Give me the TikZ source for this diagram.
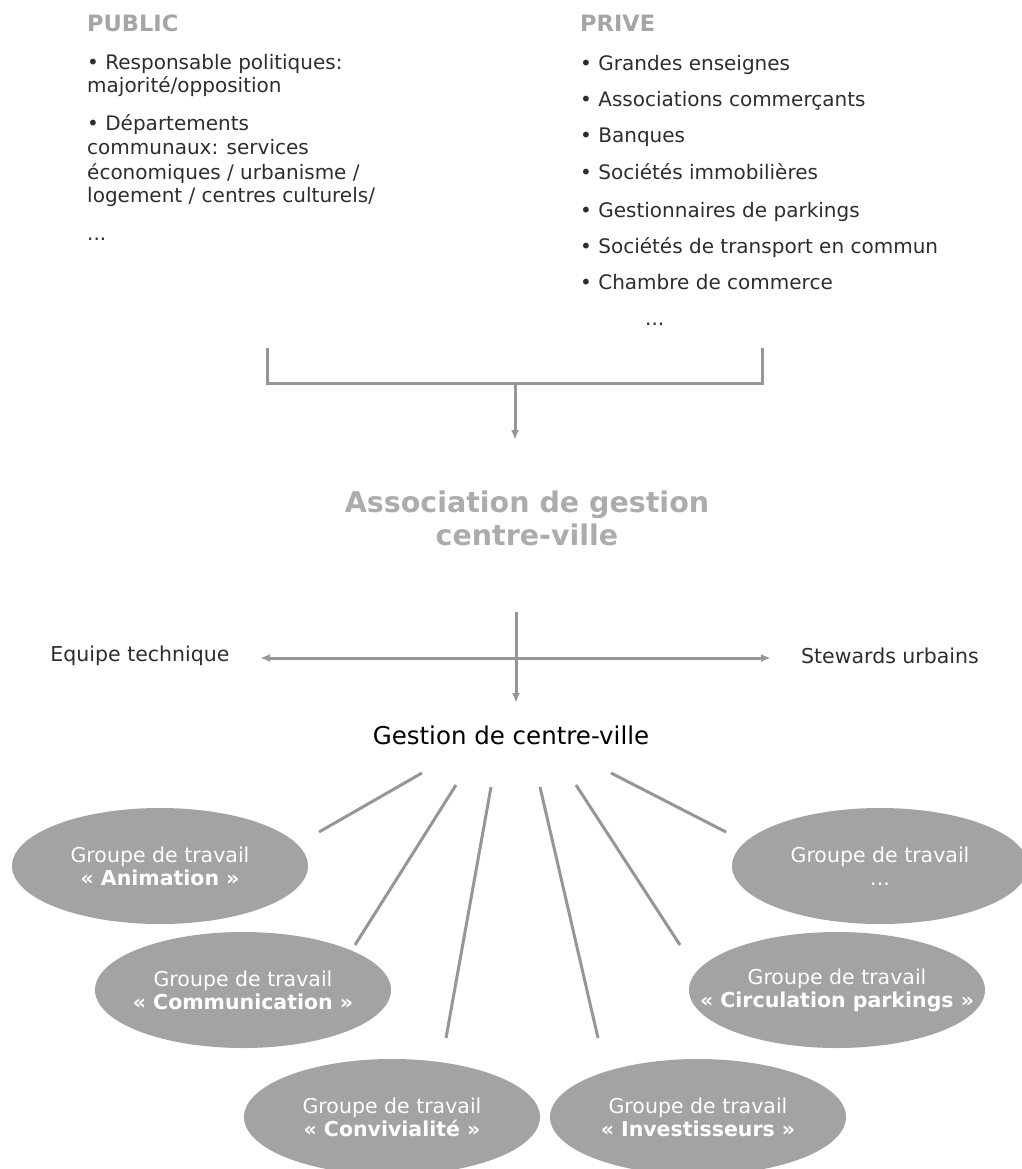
\documentclass[tikz,border=0pt]{standalone}
\usepackage{fontspec}
\setmainfont{DejaVu Sans}
\usepackage{xcolor}
\usetikzlibrary{arrows.meta,shapes.geometric}

\definecolor{bodytext}{RGB}{45,45,45}
\definecolor{headgray}{RGB}{165,165,165}
\definecolor{assocgray}{RGB}{172,172,172}
\definecolor{linkgray}{RGB}{150,150,150}
\definecolor{groupgray}{RGB}{163,163,163}

\begin{document}
\begin{tikzpicture}[x=1pt, y=-1pt,
    listline/.style={anchor=base west, inner sep=0pt, text=bodytext, font=\fontsize{20}{24}\selectfont},
    listhead/.style={anchor=base west, inner sep=0pt, text=headgray, font=\bfseries\fontsize{22.5}{24}\selectfont},
    sideline/.style={inner sep=0pt, text=bodytext, font=\fontsize{20.5}{24}\selectfont},
    linkline/.style={draw=linkgray, line width=3pt},
    linkarrow/.style={linkline, -{Latex[length=10pt,width=8pt]}},
    workgroup/.style={ellipse, fill=groupgray, minimum width=296pt, minimum height=116pt, inner sep=0pt},
    grouptext/.style={inner sep=0pt, text=white, align=center, font=\fontsize{20.5}{23}\selectfont}]
    \useasboundingbox (0,0) rectangle (1021,1169);

    % public side
    \node[listhead] (pubhead) at (87,32) {PUBLIC};
    \node[listline] (pub1a) at (87,70) {• Responsable politiques:};
    \node[listline] (pub1b) at (87,93) {majorité/opposition};
    \node[listline] (pub2a) at (87,131) {• Départements};
    \node[listline] (pub2b) at (87,155) {communaux: services};
    \node[listline] (pub2c) at (87,180) {économiques / urbanisme /};
    \node[listline] (pub2d) at (87,203) {logement / centres culturels/};
    \node[listline] (pubetc) at (87,240) {...};

    % private side
    \node[listhead] (prvhead) at (580,32) {PRIVE};
    \node[listline] (prv1) at (580,71) {• Grandes enseignes};
    \node[listline] (prv2) at (580,107) {• Associations commerçants};
    \node[listline] (prv3) at (580,143) {• Banques};
    \node[listline] (prv4) at (580,180) {• Sociétés immobilières};
    \node[listline] (prv5) at (580,217) {• Gestionnaires de parkings};
    \node[listline] (prv6) at (580,253) {• Sociétés de transport en commun};
    \node[listline] (prv7) at (580,289) {• Chambre de commerce};
    \node[listline] (prvetc) at (645,325) {...};

    % bracket
    \coordinate (brl) at (267,348);
    \coordinate (brr) at (762,348);
    \coordinate (brm) at (515,383);
    \coordinate (associn) at (515,440);
    \draw[linkline] (brl) |- (brm) -| (brr);
    \draw[linkarrow] (brm) -- (associn);

    \node[inner sep=0pt, text=assocgray, align=center, font=\bfseries\fontsize{28.5}{33}\selectfont]
        (assoc) at (527,518) {Association de gestion\\centre-ville};

    % staff
    \node[sideline] (equipe) at (140,656) {Equipe technique};
    \node[sideline] (stewards) at (890,656) {Stewards urbains};
    \coordinate (vtop) at (516,612);
    \coordinate (vbot) at (516,703);
    \coordinate (hleft) at (260,658);
    \coordinate (hright) at (771,658);
    \draw[linkarrow] (vtop) -- (vbot);
    \draw[linkline, {Latex[length=10pt,width=8pt]}-{Latex[length=10pt,width=8pt]}] (hleft) -- (hright);

    \node[inner sep=0pt, text=black, font=\fontsize{24.5}{28}\selectfont] (gestion) at (511,735) {Gestion de centre-ville};

    % working groups
    \node[workgroup] (animation) at (160,866) {};
    \node[workgroup] (autres) at (880,866) {};
    \node[workgroup] (communication) at (243,990) {};
    \node[workgroup] (circulation) at (837,990) {};
    \node[workgroup] (convivialite) at (392,1117) {};
    \node[workgroup] (investisseurs) at (698,1117) {};
    \node[grouptext] at (animation) {Groupe de travail\\\textbf{« Animation »}};
    \node[grouptext] at (autres) {Groupe de travail\\...};
    \node[grouptext] at (communication) {Groupe de travail\\\textbf{« Communication »}};
    \node[grouptext] at (circulation) {Groupe de travail\\\textbf{« Circulation parkings »}};
    \node[grouptext] at (convivialite) {Groupe de travail\\\textbf{« Convivialité »}};
    \node[grouptext] at (investisseurs) {Groupe de travail\\\textbf{« Investisseurs »}};

    \coordinate (g1) at (422,773);
    \coordinate (g2) at (456,785);
    \coordinate (g3) at (491,787);
    \coordinate (g4) at (540,787);
    \coordinate (g5) at (576,785);
    \coordinate (g6) at (611,773);
    \coordinate (e1) at (319,832);
    \coordinate (e2) at (355,945);
    \coordinate (e3) at (446,1038);
    \coordinate (e4) at (598,1038);
    \coordinate (e5) at (680,945);
    \coordinate (e6) at (726,832);
    \draw[linkline] (g1) -- (e1);
    \draw[linkline] (g2) -- (e2);
    \draw[linkline] (g3) -- (e3);
    \draw[linkline] (g4) -- (e4);
    \draw[linkline] (g5) -- (e5);
    \draw[linkline] (g6) -- (e6);
\end{tikzpicture}
\end{document}
